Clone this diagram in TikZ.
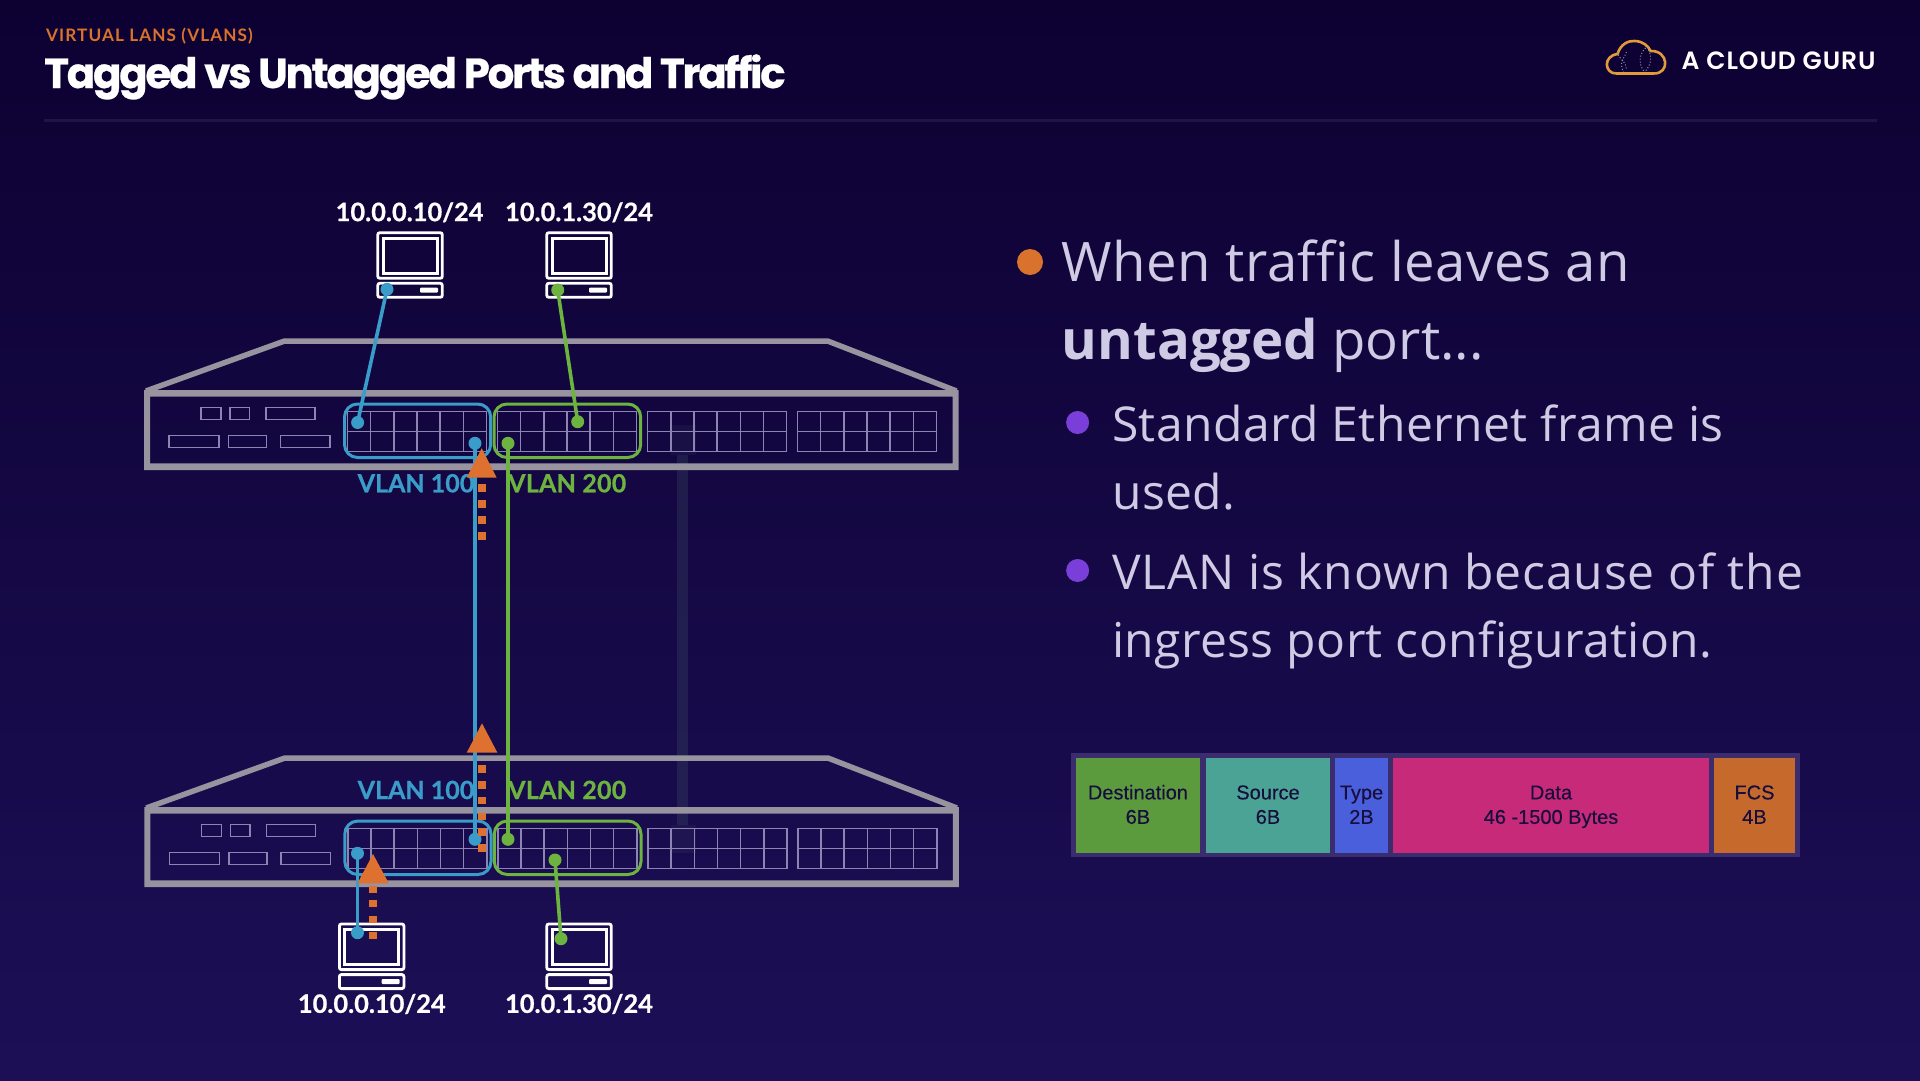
\documentclass[tikz,border=0pt]{standalone}
\usepackage{fontspec}
\setmainfont[Ligatures=NoCommon]{Open Sans}
\newfontfamily\titlef[LetterSpace=-5.45,FakeBold=0.6]{Poppins Bold}
\newfontfamily\subf[LetterSpace=6.2]{Lato Bold}
\newfontfamily\labf[FakeBold=0.7]{Lato Bold}
\newfontfamily\logof[LetterSpace=3.7]{Poppins SemiBold}
\newfontfamily\framef[FakeBold=0.3]{Liberation Sans}
\newcommand{\trk}[1]{\addfontfeature{LetterSpace=#1}}
\definecolor{bgtop}{HTML}{0D0132}
\definecolor{bgbot}{HTML}{1C0F56}
\definecolor{acgorange}{HTML}{D9722C}
\definecolor{arrowor}{HTML}{DE7130}
\definecolor{vblue}{HTML}{3A9CC8}
\definecolor{vgreen}{HTML}{6DB33F}
\definecolor{chassis}{HTML}{97939F}
\definecolor{portline}{HTML}{8D84B4}
\definecolor{bodytext}{HTML}{CFCBE4}
\definecolor{purpledot}{HTML}{7A3FD8}
\definecolor{framebg}{HTML}{3B2C6E}
\definecolor{framefg}{HTML}{180E3E}
\definecolor{cellA}{HTML}{5C9A3E}
\definecolor{cellB}{HTML}{4AA394}
\definecolor{cellC}{HTML}{4A5FDC}
\definecolor{cellD}{HTML}{C72A78}
\definecolor{cellE}{HTML}{C56A2C}
\definecolor{logoline}{HTML}{E39A3B}
\definecolor{ghost}{HTML}{3D4F66}
\tikzset{
  chassisline/.style={draw=chassis,line width=5.5pt,line join=miter},
  chassisband/.style={fill=chassis},
  portbox/.style={draw=portline,line width=1.5pt},
  vlanbox/.style={line width=3pt,rounded corners=13pt},
  pcline/.style={draw=white,line width=2.8pt,rounded corners=2pt},
  wire/.style={line width=3.6pt},
  iplabel/.style={font=\labf\fontsize{25.4}{25.4}\selectfont,text=white,inner sep=0pt,anchor=center},
  vlanlabel/.style={font=\labf\fontsize{25}{25}\selectfont,inner sep=0pt,anchor=base west},
  bodyL/.style={font=\fontsize{54.5}{54.5}\selectfont,text=bodytext,inner sep=0pt,anchor=base west},
  bodyS/.style={font=\fontsize{48}{48}\selectfont,text=bodytext,inner sep=0pt,anchor=base west},
  cellbox/.style={inner sep=0pt,align=center,text=framefg,font=\framef\fontsize{20}{24.5}\selectfont},
}
\newcommand{\portgrid}[1]{%
  \draw[portbox] (#1,411.5) rectangle ++(139,40);
  \draw[portbox] (#1,431.5) -- ++(139,0);
  \foreach \i in {1,...,5}{\draw[portbox] ({#1+\i*23.15},411.5) -- ++(0,40);}
}
\newcommand{\switchbody}{%
  \draw[chassisline] (146,391) -- (284.6,341) -- (827.6,341) -- (956.5,391);
  \fill[chassisband,even odd rule] (144,390) rectangle (958.5,470) (150,396.7) rectangle (952.5,463.3);
  \foreach \a/\b/\c/\d in {201/407.3/221/419.3,230/407.3/249.5/419.3,266/407.3/315/419.3,169/435.3/219/447.3,228.6/435.3/266.5/447.3,280.7/435.3/330/447.3}
    {\draw[portbox] (\a,\b) rectangle (\c,\d);}
  \portgrid{347.5}\portgrid{497.5}\portgrid{647.7}\portgrid{797.5}
  \draw[vlanbox,draw=vblue] (344.5,404) rectangle (490.7,457.5);
  \draw[vlanbox,draw=vgreen] (494,404) rectangle (640.7,457.5);
}
\newcommand{\computer}[2]{%
  \begin{scope}[shift={(#1,#2)}]
    \draw[pcline] (0,0) rectangle (64.5,45.6);
    \draw[draw=white,line width=2.8pt] (5.4,5.6) rectangle (59.4,40.6);
    \draw[pcline] (0,50.6) rectangle (64.5,64.6);
    \fill[white,rounded corners=1pt] (42.2,55) rectangle (60.2,60);
  \end{scope}
}
\begin{document}
\begin{tikzpicture}[x=1pt,y=-1pt]
\useasboundingbox (0,0) rectangle (1920,1080);
\fill[top color=bgtop,bottom color=bgbot] (0,0) rectangle (1920,1080);

% header
\node[inner sep=0pt,anchor=base west,text=acgorange] (kicker) at (46,41)
  {\subf\fontsize{17.2}{17.2}\selectfont VIRTUAL LANS (VLANS)};
\node[inner sep=0pt,anchor=base west,text=white] (title) at (44,88)
  {\titlef\fontsize{42}{42}\selectfont Tagged vs Untagged Ports and Traffic};
\draw[draw=white,opacity=.07,line width=3pt] (44,120) -- (1877,120);

% logo
\begin{scope}[xshift=-1.5pt]
\draw[draw=logoline,line width=2.6pt,line join=round]
  (1618,73.5) .. controls (1606,74) and (1604,56) .. (1619,54)
  .. controls (1622,44) and (1630,40.5) .. (1636,41)
  .. controls (1644,41) and (1650,46) .. (1652,51)
  .. controls (1670,50) and (1672,74) .. (1655,73.5) -- cycle;
\draw[draw=bodytext!70!black,line width=1pt,dotted] (1619,52) .. controls (1618,58) and (1628,60) .. (1628,70);
\draw[draw=bodytext!70!black,line width=1pt,dotted] (1628,52) .. controls (1626,58) and (1620,62) .. (1625,72);
\draw[draw=bodytext!70!black,line width=1pt,dotted] (1647,48) .. controls (1640,55) and (1640,65) .. (1646,72);
\draw[draw=bodytext!70!black,line width=1pt,dotted] (1650,50) .. controls (1654,58) and (1652,66) .. (1646,72);
\end{scope}
\node[inner sep=0pt,anchor=base west,text=white] (logotext) at (1681.5,69.3)
  {\logof\fontsize{25}{25}\selectfont A CLOUD GURU};

% faint ghost link
\fill[ghost,opacity=.3] (677,455) rectangle (688,825);
\fill[ghost,opacity=.15] (671,425) rectangle (696,455);
\fill[ghost,opacity=.15] (671,825) rectangle (696,853);

% top switch
\switchbody
% bottom switch
\begin{scope}[shift={(0.3,417)}]
  \switchbody
\end{scope}

% computers
\computer{377.8}{232.7}
\computer{546.8}{232.7}
\computer{339.4}{924}
\computer{546.8}{924}

% address labels
\node[iplabel] (ipa) at (409.6,212.3) {10.0.0.10/24};
\node[iplabel] (ipb) at (579,212.3) {10.0.1.30/24};
\node[iplabel] (ipc) at (371.8,1004) {10.0.0.10/24};
\node[iplabel] (ipd) at (579,1004) {10.0.1.30/24};

% vlan labels
\node[vlanlabel,text=vblue] (v100top) at (357.5,492.3) {VLAN 100};
\node[vlanlabel,text=vgreen] (v200top) at (508,492.3) {\addfontfeature{LetterSpace=1}VLAN 200};
\node[vlanlabel,text=vblue] (v100bot) at (357.5,799) {VLAN 100};
\node[vlanlabel,text=vgreen] (v200bot) at (508,799) {\addfontfeature{LetterSpace=1}VLAN 200};

% end points
\coordinate (pcA) at (387,289.3);
\coordinate (portA) at (357.6,422.5);
\coordinate (pcB) at (557.7,290);
\coordinate (portB) at (577.7,421.7);
\coordinate (upB) at (475,443.3);
\coordinate (upG) at (508,443.3);
\coordinate (dnB) at (475,839.3);
\coordinate (dnG) at (508,839.3);
\coordinate (portC) at (357.5,853.3);
\coordinate (pcC) at (357.5,932.7);
\coordinate (portD) at (555,860);
\coordinate (pcD) at (561,938.7);

% wires
\foreach \p/\q/\c in {pcA/portA/vblue,pcB/portB/vgreen,upB/dnB/vblue,upG/dnG/vgreen,portC/pcC/vblue,portD/pcD/vgreen}{
  \draw[wire,draw=\c] (\p) -- (\q);
  \fill[\c] (\p) circle (6.5);
  \fill[\c] (\q) circle (6.5);
}

% dashed traffic arrows
\foreach \y in {484.3,500.3,516.2,532.2,765,781,796.7,812.7,828.2,844.2}
  {\fill[arrowor] (477.7,\y) rectangle (485.7,\y+7.6);}
\foreach \y in {885.5,900,915.7,931.7}
  {\fill[arrowor] (369,\y) rectangle (377,\y+7);}
\fill[arrowor] (481.7,448.3) -- (496.7,477.7) -- (466.7,477.7) -- cycle;
\fill[arrowor] (482,723.3) -- (497.4,752.7) -- (466.7,752.7) -- cycle;
\fill[arrowor] (373,854) -- (388.8,883.3) -- (357.5,883.3) -- cycle;

% bullets
\fill[acgorange] (1030,262) circle (13);
\fill[purpledot] (1077.6,422.5) circle (11.5);
\fill[purpledot] (1077.6,570.5) circle (11.5);
\node[bodyL] (l1) at (1061.7,281.5) {\trk{0.8}When traffic leaves an};
\node[bodyL] (l2) at (1061.7,359.5) {\textbf{untagged} port...};
\node[bodyS] (l3) at (1112,441) {\trk{0.88}Standard Ethernet frame is};
\node[bodyS] (l4) at (1112,509) {\trk{0.88}used.};
\node[bodyS] (l5) at (1112,589) {\trk{1.9}VLAN is known because of the};
\node[bodyS] (l6) at (1112,657) {\trk{0.85}ingress port configuration.};

% frame
\fill[framebg] (1071.4,753.3) rectangle (1799.7,857.3);
\foreach \a/\b/\c/\t/\u in {1075.9/1200/cellA/Destination/6B,1206/1330/cellB/Source/6B,1335/1388/cellC/Type/2B,1393/1709/cellD/Data/46 -1500 Bytes,1714/1795/cellE/FCS/4B}{
  \fill[\c] (\a,757.7) rectangle (\b,852.7);
  \node[cellbox] at ({(\a+\b)/2},806.7) {\strut\t\\\strut\u};
}
\end{tikzpicture}
\end{document}
